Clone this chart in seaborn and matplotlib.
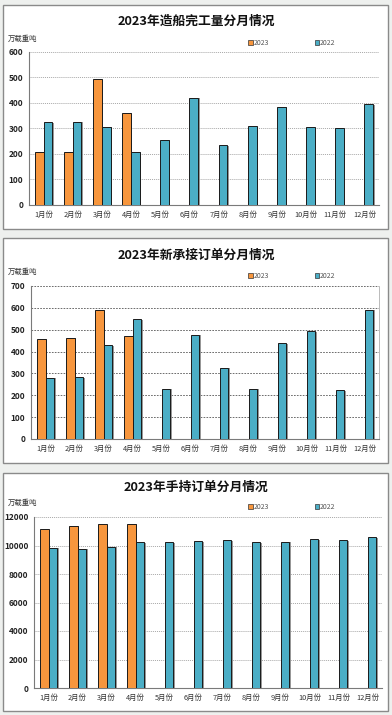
import matplotlib
matplotlib.use("Agg")
import matplotlib.pyplot as plt
import matplotlib.patheffects as pe
from matplotlib.patches import Rectangle, Patch
import seaborn as sns
import pandas as pd
import numpy as np

months = ["1月份", "2月份", "3月份", "4月份", "5月份", "6月份",
          "7月份", "8月份", "9月份", "10月份", "11月份", "12月份"]
series_names = ["2023", "2022"]

completions_2023 = [209, 209, 493, 362]
completions_2022 = [324, 327, 307, 209, 256, 421, 235, 308, 386, 306, 302, 396]

new_orders_2023 = [459, 463, 592, 469]
new_orders_2022 = [281, 284, 430, 547, 231, 478, 326, 231, 440, 495, 222, 592]

backlog_2023 = [11138, 11394, 11487, 11534]
backlog_2022 = [9856, 9786, 9926, 10252, 10229, 10298, 10392, 10229, 10275, 10462, 10392, 10578]

titles = ["2023年造船完工量分月情况", "2023年新承接订单分月情况", "2023年手持订单分月情况"]
unit_label = "万载重吨"

sns.set_theme(style="white")
plt.rcParams["font.family"] = ["Noto Sans CJK SC", "DejaVu Sans"]

W, H = 392, 715
fig = plt.figure(figsize=(W / 100, H / 100), dpi=100)
fig.patch.set_facecolor("#eef0ee")

c23 = "#F7963D"
c22 = "#4BAEC6"

def fy(py):
    return 1 - py / H

panels = [(3, 5, 388, 229), (3, 238, 388, 463), (3, 473, 388, 711)]
axes_px = [(29, 52, 379, 205), (31, 286, 379, 439), (34, 517, 382, 688)]
title_y = [21, 255, 487]
unit_y = [39, 272, 503]
legend_y = [43, 276, 507]
ylims = [(600, 100), (700, 100), (12000, 2000)]
datasets = [(completions_2023, completions_2022),
            (new_orders_2023, new_orders_2022),
            (backlog_2023, backlog_2022)]

for i in range(3):
    x0, y0, x1, y1 = panels[i]
    fig.patches.append(Rectangle((x0 / W, fy(y1)), (x1 - x0) / W, (y1 - y0) / H,
                                 transform=fig.transFigure, facecolor="white",
                                 edgecolor="#8a8a8a", linewidth=1.0, zorder=-5))
    ax0, ay0, ax1, ay1 = axes_px[i]
    ax = fig.add_axes([ax0 / W, fy(ay1), (ax1 - ax0) / W, (ay1 - ay0) / H])
    ax.set_zorder(2)
    ax.set_facecolor("white")

    d23, d22 = datasets[i]
    vals23 = list(d23) + [np.nan] * (12 - len(d23))
    df = pd.DataFrame({
        "month": months * 2,
        "series": [series_names[0]] * 12 + [series_names[1]] * 12,
        "value": vals23 + list(d22),
    })
    sns.barplot(data=df, x="month", y="value", hue="series", order=months,
                hue_order=series_names, palette=[c23, c22], width=0.6,
                saturation=1, edgecolor="#1a1a1a", linewidth=0.7, ax=ax,
                legend=False, zorder=3)
    for p in ax.patches:
        p.set_path_effects([pe.SimplePatchShadow(offset=(1.0, -0.5), shadow_rgbFace="#8c8c8c", alpha=0.9), pe.Normal()])

    ymax, step = ylims[i]
    ax.set_ylim(0, ymax)
    ax.set_yticks(np.arange(0, ymax + step / 2, step))
    ax.set_xlim(-0.5, 11.5)
    ax.set_xlabel("")
    ax.set_ylabel("")
    if i == 1:
        ax.grid(axis="y", color="#555555", linestyle=(0, (2, 1.5)), linewidth=0.6, zorder=1)
    else:
        ax.grid(axis="y", color="#a8a8a8", linestyle=(0, (1, 1)), linewidth=0.7, zorder=1)
    ax.grid(axis="x", visible=False)
    ax.set_axisbelow(True)
    for s in ["top", "right"]:
        ax.spines[s].set_visible(False)
    if i == 1:
        ax.spines["right"].set_visible(True)
        ax.spines["right"].set_color("#b0b0b0")
        ax.spines["right"].set_linewidth(0.6)
    for s in ["left", "bottom"]:
        ax.spines[s].set_color("#7a7a7a")
        ax.spines[s].set_linewidth(0.8)

    ax.tick_params(axis="y", labelsize=6, length=0, pad=4, colors="#222222")
    ax.tick_params(axis="x", which="major", labelsize=5.3, length=0, pad=4, labelcolor="#333333")
    ax.set_xticks(np.arange(-0.5, 12, 1), minor=True)
    ax.tick_params(axis="x", which="minor", length=2.5, width=0.6, color="#7a7a7a", direction="out")
    for lbl in ax.get_yticklabels():
        lbl.set_fontweight("bold")

    fig.text(196 / W, fy(title_y[i]), titles[i], ha="center", va="center",
             fontsize=9.2, fontweight="bold", color="#111111")
    fig.text(8 / W, fy(unit_y[i]), unit_label, ha="left", va="center",
             fontsize=5.3, color="#333333")

    handles = [Patch(facecolor=c23, edgecolor="#333333", linewidth=0.5),
               Patch(facecolor=c22, edgecolor="#333333", linewidth=0.5)]
    fig.legend(handles, series_names, loc="center", ncol=2,
               bbox_to_anchor=(292 / W, fy(legend_y[i])), frameon=False,
               fontsize=5, handlelength=0.6, handleheight=0.6,
               handletextpad=0.2, columnspacing=6.5, labelcolor="#555555")

fig.savefig("out.png", dpi=100, facecolor=fig.get_facecolor())
